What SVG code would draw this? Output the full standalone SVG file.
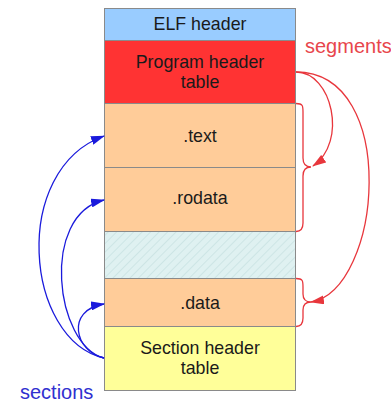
<svg xmlns="http://www.w3.org/2000/svg" width="391" height="403" viewBox="0 0 391 403">
<defs>
<style>
.box{stroke:#8a8a8a;stroke-width:1}
.t{font-family:"Liberation Sans",Arial,sans-serif;font-size:17.8px;fill:#1a1a1a;text-anchor:middle}
.lbl{font-family:"Liberation Sans",Arial,sans-serif;font-size:20px}
.red{fill:none;stroke:#e8363c;stroke-width:1.3}
.blue{fill:none;stroke:#1a1adc;stroke-width:1.3}
</style>
<pattern id="hatch" width="6" height="6" patternUnits="userSpaceOnUse" patternTransform="rotate(45)">
<rect width="6" height="6" fill="#dff1f1"/>
<line x1="0" y1="0" x2="0" y2="6" stroke="#c8e2e2" stroke-width="1.5"/>
</pattern>
<marker id="ar" markerWidth="14" markerHeight="9" refX="13" refY="4.5" orient="auto" markerUnits="userSpaceOnUse">
<path d="M0,0 L14,4.5 L0,9 Z" fill="#e8363c"/>
</marker>
<marker id="ab" markerWidth="14" markerHeight="9" refX="13" refY="4.5" orient="auto" markerUnits="userSpaceOnUse">
<path d="M0,0 L14,4.5 L0,9 Z" fill="#1a1adc"/>
</marker>
</defs>
<rect width="391" height="403" fill="#ffffff"/>
<g id="elf-header"><rect class="box" x="104.5" y="8.5" width="191" height="32" fill="#99ccff"/><text class="t" x="200" y="30">ELF header</text></g>
<g id="program-header"><rect class="box" x="104.5" y="40.5" width="191" height="63" fill="#ff3333"/><text class="t" x="200" y="67.5">Program header</text><text class="t" x="200" y="87.5">table</text></g>
<g id="text"><rect class="box" x="104.5" y="103.5" width="191" height="64" fill="#ffcc99"/><text class="t" x="200" y="141.5">.text</text></g>
<g id="rodata"><rect class="box" x="104.5" y="167.5" width="191" height="64" fill="#ffcc99"/><text class="t" x="200" y="204">.rodata</text></g>
<g id="gap"><rect class="box" x="104.5" y="231.5" width="191" height="47" fill="url(#hatch)"/></g>
<g id="data"><rect class="box" x="104.5" y="278.5" width="191" height="48" fill="#ffcc99"/><text class="t" x="200" y="308.5">.data</text></g>
<g id="section-header"><rect class="box" x="104.5" y="326.5" width="191" height="64" fill="#ffff99"/><text class="t" x="200" y="353.5">Section header</text><text class="t" x="200" y="373.5">table</text></g>
<g id="labels">
<text class="lbl" x="305" y="53" fill="#e8464c">segments</text>
<text class="lbl" x="20" y="399" fill="#3030d0">sections</text>
</g>
<g id="connectors">
<path class="red" d="M296,103.5 C303,103.5 303,106 303,112 L303,158 C303,164 306,167 311,167 C306,167 303,170 303,176 L303,223 C303,229 301,231.5 296,231.5"/>
<path class="red" d="M296,278.5 C303,278.5 303,281 303,287 L303,294 C303,299 306,302 311,302 C306,302 303,305 303,310 L303,318 C303,324 301,326.5 296,326.5"/>
<path class="red" d="M296,72 C332,72 348,142 313,166" marker-end="url(#ar)"/>
<path class="red" d="M296,72 C400,72 382,290 311,302" marker-end="url(#ar)"/>
<path class="blue" d="M104,358 C25,340 10,170 104,136" marker-end="url(#ab)"/>
<path class="blue" d="M104,358 C55,345 40,215 104,200" marker-end="url(#ab)"/>
<path class="blue" d="M104,358 C75,352 65,310 104,304" marker-end="url(#ab)"/>
</g>
</svg>
